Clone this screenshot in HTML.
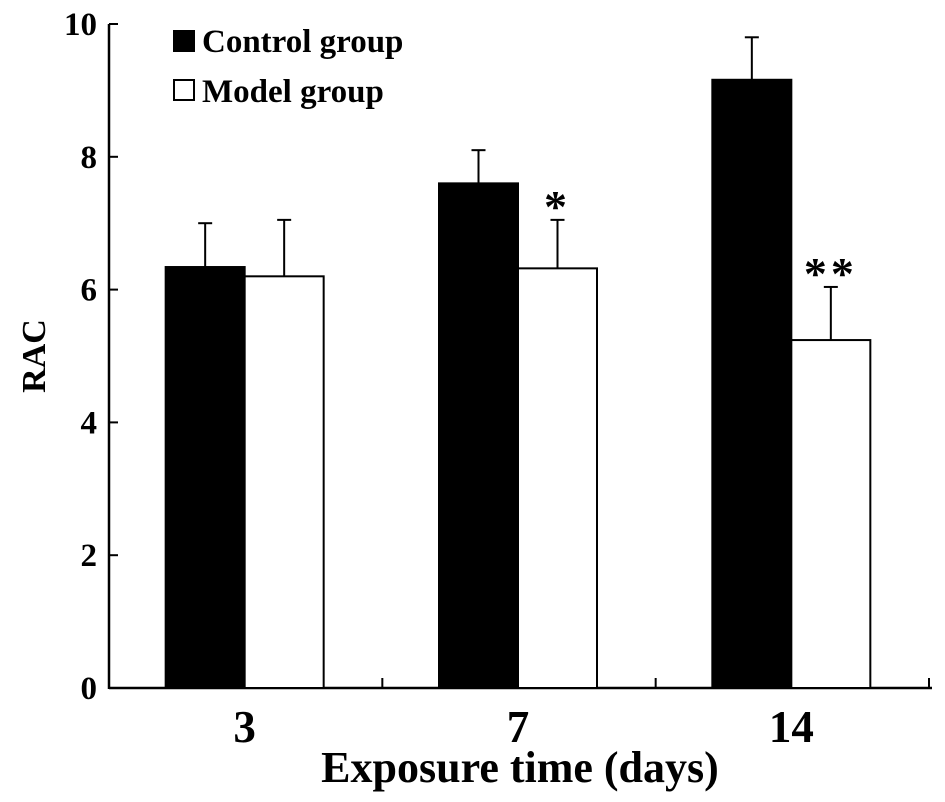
<!DOCTYPE html>
<html><head><meta charset="utf-8"><style>
html,body{margin:0;padding:0;background:#fff;}
svg{display:block;font-family:"Liberation Serif",serif;font-weight:bold;}
</style></head><body>
<svg id="chart" width="945" height="802" viewBox="0 0 945 802" xmlns="http://www.w3.org/2000/svg">
<g id="axes"></g>
<g id="bars"></g>
<g>
  <rect x="173" y="30" width="22" height="22" fill="#000"/>
  <text x="202" y="52" font-size="33">Control group</text>
  <rect x="174" y="80" width="20" height="20" fill="#fff" stroke="#000" stroke-width="2"/>
  <text x="202" y="102" font-size="33">Model group</text>
</g>
<text transform="translate(45,356) rotate(-90)" text-anchor="middle" font-size="34">RAC</text>
<text x="520" y="782" text-anchor="middle" font-size="44">Exposure time (days)</text>
</svg>
<script>
const categories = ["3", "7", "14"];
const controlValues = [6.34, 7.6, 9.16];
const controlErrors = [0.66, 0.5, 0.64];
const modelValues = [6.2, 6.32, 5.24];
const modelErrors = [0.85, 0.73, 0.8];
const significance = ["", "*", "**"];
const yTicks = [0, 2, 4, 6, 8, 10];

const NS = "http://www.w3.org/2000/svg";
const x0 = 109, x1 = 932, yBase = 688, yTop = 24, yMax = 10;
const groupW = (x1 - x0 - 3) / categories.length;
const barW = 79;
function yScale(v){ return yBase - (v / yMax) * (yBase - yTop); }
function groupCenter(i){ return x0 + groupW * (i + 0.5) - 1; }
function mk(tag, attrs, parent){
  const el = document.createElementNS(NS, tag);
  for (const k in attrs) el.setAttribute(k, attrs[k]);
  parent.appendChild(el);
  return el;
}
const axes = document.getElementById("axes");
const bars = document.getElementById("bars");

yTicks.forEach(t => {
  const y = yScale(t);
  const tk = mk("line", {x1: x0, x2: x0 + 9, y1: y, y2: y, stroke: "#000", "stroke-width": 2}, axes);
  
  
  const lb = mk("text", {x: 97, y: y + 11, "text-anchor": "end", "font-size": 33}, axes);
  lb.textContent = t;
  
  
});

categories.forEach((c, i) => {
  const cx = groupCenter(i);
  const drawBar = (val, err, left, fill, name) => {
    const y = yScale(val);
    const ye = yScale(val + err);
    const mid = left + barW / 2;
    const el = mk("line", {x1: mid, x2: mid, y1: y, y2: ye, stroke: "#000", "stroke-width": 2}, bars);
    
    
    const cap = mk("line", {x1: mid - 7, x2: mid + 7, y1: ye, y2: ye, stroke: "#000", "stroke-width": 2}, bars);
    
    
    const r = mk("rect", {x: left, y: y, width: barW, height: yBase - y, fill: fill, stroke: "#000", "stroke-width": 2}, bars);
    
    
    return {mid, ye};
  };
  drawBar(controlValues[i], controlErrors[i], cx - barW, "#000", "control-" + c);
  const m = drawBar(modelValues[i], modelErrors[i], cx, "#fff", "model-" + c);
  if (significance[i]) {
    const s = mk("text", {x: m.mid, y: m.ye + 2, "text-anchor": "middle", "font-size": 46, "letter-spacing": "4"}, bars);
    s.textContent = significance[i];
    
    
  }
  const lb = mk("text", {x: cx, y: 742, "text-anchor": "middle", "font-size": 45}, axes);
  lb.textContent = c;
  
  
  const bx = x0 + groupW * (i + 1);
  const tk = mk("line", {x1: bx, x2: bx, y1: yBase, y2: yBase - 10, stroke: "#000", "stroke-width": 2}, axes);
  
  
});

const ya = mk("line", {x1: x0, x2: x0, y1: yTop, y2: yBase + 1, stroke: "#000", "stroke-width": 2.5}, axes);


const xa = mk("line", {x1: x0, x2: x1, y1: yBase, y2: yBase, stroke: "#000", "stroke-width": 2.5}, axes);


</script>
</body></html>
